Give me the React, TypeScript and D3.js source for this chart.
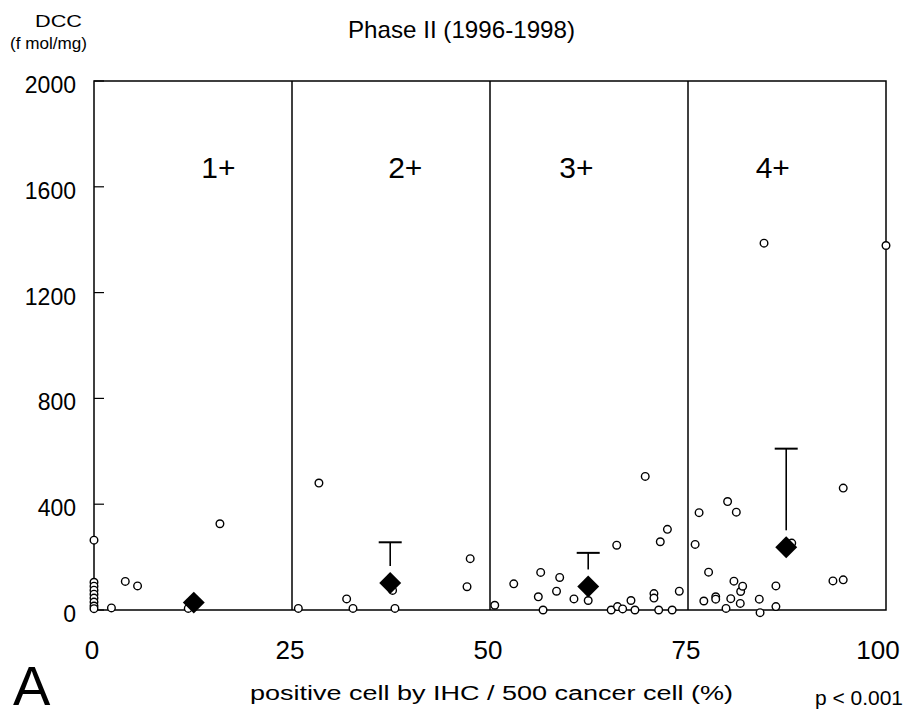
import React from "react";
import * as d3 from "d3";

const pctValues: number[] = [
  0, 0, 0, 0, 0, 0, 0, 0, 0, 2.2, 3.95, 5.5, 11.9, 15.9,
  25.8, 28.4, 31.9, 32.7, 37.7, 38.0, 47.1, 47.5,
  50.6, 53.0, 56.1, 56.4, 56.7, 58.4, 58.8, 60.6, 62.4, 65.3, 66.0, 66.1, 66.75, 67.8, 68.3, 69.6, 70.7, 70.7, 71.3, 71.5, 72.4, 73.0, 73.9,
  75.9, 76.4, 77.0, 77.6, 78.5, 78.5, 79.8, 80.0, 80.4, 80.8, 81.1, 81.6, 81.65, 81.9, 84.0, 84.1, 84.6, 86.1, 86.1, 88.1, 93.3, 94.6, 94.6, 100,
];
const dccValues: number[] = [
  264, 105, 90, 75, 60, 45, 30, 15, 5, 8, 108, 91, 6, 326,
  6, 480, 42, 6, 74, 6, 88, 194,
  18, 99, 50, 142, 0, 71, 123, 42, 36, 0, 245, 13, 4, 36, 0, 505, 62, 45, 0, 258, 305, 0, 71,
  248, 368, 34, 143, 50, 41, 6, 410, 43, 109, 370, 25, 70, 90, 41, -10, 1387, 91, 13, 253, 110, 114, 461, 1378,
];

const groupLabels = ["1+", "2+", "3+", "4+"];
const groupLabelPct = [15.7, 39.3, 60.9, 85.7];
const meanPct = [12.6, 37.4, 62.4, 87.4];
const meanDcc = [28, 102, 89, 237];
const errTop: (number | null)[] = [null, 256, 216, 610];

const yTicks = [0, 400, 800, 1200, 1600, 2000];
const xTicks = [0, 25, 50, 75, 100];
const dividers = [25, 50, 75];

export default function App() {
  const W = 906, H = 721;
  const x = d3.scaleLinear().domain([0, 100]).range([94, 886]);
  const y = d3.scaleLinear().domain([0, 2000]).range([610, 81]);
  const font = "Liberation Sans, Arial, sans-serif";
  const diamond = d3.symbol().type(d3.symbolSquare).size(240)();

  return (
    <svg width={W} height={H} style={{ position: "absolute", left: 0, top: 0, background: "#fff" }}>
      <rect x={0} y={0} width={W} height={H} fill="#fff" />
      {/* frame */}
      <rect x={x(0)} y={y(2000)} width={x(100) - x(0)} height={y(0) - y(2000)} fill="none" stroke="#000" strokeWidth={1.5} />
      {dividers.map((d) => (
        <line key={d} x1={x(d)} x2={x(d)} y1={y(2000)} y2={y(0)} stroke="#000" strokeWidth={1.5} />
      ))}
      {/* y ticks */}
      {yTicks.map((t) => (
        <g key={t}>
          <line x1={x(0)} x2={x(0) + 10} y1={y(t)} y2={y(t)} stroke="#000" strokeWidth={1.2} />
          <text x={76} y={y(t) + 12} textAnchor="end" fontFamily={font} fontSize={23} fill="#000">{t}</text>
        </g>
      ))}
      {/* x tick labels */}
      {xTicks.map((t) => (
        <text key={t} x={t === 100 ? x(t) - 8 : x(t) - 2} y={659} textAnchor="middle" fontFamily={font} fontSize={26} fill="#000">{t}</text>
      ))}
      {/* group labels */}
      {groupLabels.map((g, i) => (
        <text key={g} x={x(groupLabelPct[i])} y={178} textAnchor="middle" fontFamily={font} fontSize={30} fill="#000">{g}</text>
      ))}
      {/* points */}
      {pctValues.map((p, i) => (
        <circle key={i} cx={x(p)} cy={y(dccValues[i])} r={3.8} fill="#fff" stroke="#000" strokeWidth={1.4} />
      ))}
      {/* error bars */}
      {meanPct.map((m, i) => {
        const top = errTop[i];
        if (top == null) return null;
        return (
          <g key={i}>
            <line x1={x(m)} x2={x(m)} y1={y(top)} y2={y(meanDcc[i]) - 17} stroke="#000" strokeWidth={1.6} />
            <line x1={x(m) - 11.5} x2={x(m) + 11.5} y1={y(top)} y2={y(top)} stroke="#000" strokeWidth={2} />
          </g>
        );
      })}
      {/* means */}
      {meanPct.map((m, i) => (
        <path key={i} d={diamond || ""} transform={`translate(${x(m)},${y(meanDcc[i])}) rotate(45)`} fill="#000" />
      ))}
      {/* texts */}
      <text x={348} y={38} textLength={227} lengthAdjust="spacingAndGlyphs" fontFamily={font} fontSize={24} fill="#000">Phase II (1996-1998)</text>
      <text x={35} y={27} textLength={47} lengthAdjust="spacingAndGlyphs" fontFamily={font} fontSize={17} fill="#000">DCC</text>
      <text x={10} y={49} textLength={77} lengthAdjust="spacingAndGlyphs" fontFamily={font} fontSize={17} fill="#000">(f mol/mg)</text>
      <text x={13} y={705} fontFamily={font} fontSize={56} fill="#000">A</text>
      <text x={250} y={700} textLength={483} lengthAdjust="spacingAndGlyphs" fontFamily={font} fontSize={20} fill="#000">positive cell by IHC / 500 cancer cell (%)</text>
      <text x={815} y={705} textLength={88} lengthAdjust="spacingAndGlyphs" fontFamily={font} fontSize={20} fill="#000">p &lt; 0.001</text>
    </svg>
  );
}
